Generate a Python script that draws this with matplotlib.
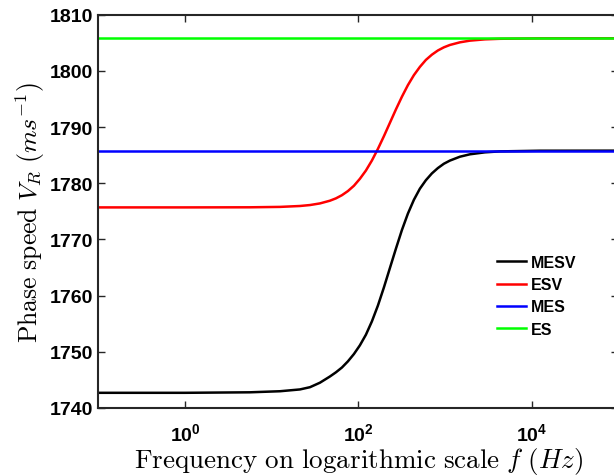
import math
import matplotlib
matplotlib.use("Agg")
import matplotlib.pyplot as plt
from matplotlib.ticker import FixedLocator, FuncFormatter, NullLocator

plt.rcParams['font.family'] = ['Liberation Sans', 'DejaVu Sans']
plt.rcParams['font.weight'] = 'bold'
plt.rcParams['mathtext.fontset'] = 'custom'
plt.rcParams['mathtext.rm'] = 'cmr10'
plt.rcParams['mathtext.it'] = 'cmmi10'
plt.rcParams['mathtext.bf'] = 'Liberation Sans:bold'
plt.rcParams['axes.unicode_minus'] = False

freq = [0.1, 1.0, 5.6, 12.5, 21.2, 27.7, 36.1, 47.0, 55.2, 64.7, 75.9, 89.0,
        104.3, 122.4, 143.5, 168.3, 197.4, 231.5, 271.5, 318.4, 373.4, 437.9,
        513.5, 602.2, 706.3, 828.3, 971.2, 1139, 1486, 1938, 2886, 4297,
        12435, 100000]

# phase speed (m/s)
mesv = [1742.7, 1742.7, 1742.79, 1742.98, 1743.3, 1743.7, 1744.5, 1745.6,
        1746.35, 1747.2, 1748.30, 1749.60, 1751.15, 1753.04, 1755.41, 1758.22,
        1761.45, 1764.90, 1768.34, 1771.66, 1774.59, 1777.05, 1779.03, 1780.54,
        1781.75, 1782.70, 1783.47, 1784.03, 1784.72, 1785.15, 1785.50, 1785.67,
        1785.79, 1785.8]
esv = [1775.7, 1775.7, 1775.72, 1775.79, 1775.95, 1776.12, 1776.41, 1776.89,
       1777.31, 1777.87, 1778.61, 1779.55, 1780.79, 1782.26, 1784.04, 1786.11,
       1788.37, 1790.75, 1793.13, 1795.39, 1797.46, 1799.24, 1800.71, 1801.95,
       1802.88, 1803.63, 1804.19, 1804.61, 1805.08, 1805.38, 1805.61, 1805.71,
       1805.79, 1805.8]
mes = [1785.8, 1785.8]
es = [1805.8, 1805.8]
flat_freq = [0.1, 100000]

fig = plt.figure(figsize=(6.14, 4.77), dpi=100)
ax = fig.add_axes([0.1601, 0.1426, 0.8469, 0.8245])

ax.plot(freq, mesv, color='k', lw=1.8, label='MESV')
ax.plot(freq, esv, color='#ff0000', lw=1.8, label='ESV')
ax.plot(flat_freq, mes, color='#0000ff', lw=1.8, label='MES')
ax.plot(flat_freq, es, color='#00ff00', lw=1.8, label='ES')

ax.set_xscale('log')
ax.set_xlim(0.1, 1e5)
ax.set_ylim(1740, 1810)
ax.xaxis.set_major_locator(FixedLocator([1, 100, 10000]))
ax.xaxis.set_minor_locator(NullLocator())
ax.xaxis.set_major_formatter(FuncFormatter(
    lambda v, p: r'$\mathbf{10^{%d}}$' % round(math.log10(v))))
ax.set_yticks(range(1740, 1811, 10))

ax.tick_params(direction='in', top=True, right=True, length=5, width=1,
               labelsize=14, color='#262626')
ax.tick_params(axis='x', pad=10)
ax.tick_params(axis='y', pad=4)
for s in ax.spines.values():
    s.set_linewidth(1.5)
    s.set_color('#262626')

ax.set_xlabel(r'$\mathrm{Frequency\ on\ logarithmic\ scale}\ f\ (Hz)$',
              fontsize=19.5, labelpad=1)
ax.set_ylabel(r'$\mathrm{Phase\ speed}\ V_R\ (ms^{-1})$', fontsize=18.5,
              labelpad=2)

ax.legend(loc='upper left', bbox_to_anchor=(497 / 614, 1 - 256 / 477),
          bbox_transform=fig.transFigure, frameon=False, fontsize=11.5,
          borderpad=0, borderaxespad=0, handlelength=1.8, handletextpad=0.35,
          labelspacing=0.45)

fig.savefig('out.png', dpi=100)
